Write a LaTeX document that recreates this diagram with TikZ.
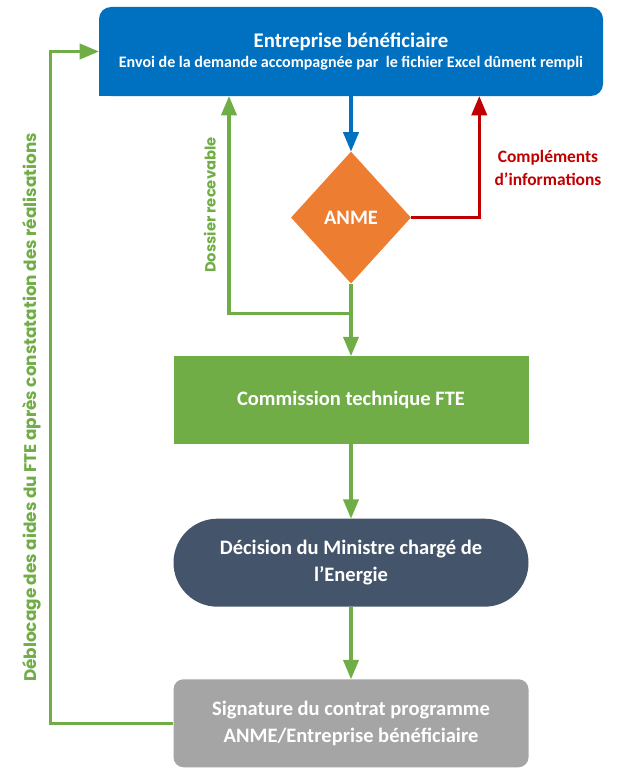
\documentclass[tikz,border=0pt]{standalone}
\usepackage{fontspec}
\setmainfont{Carlito}
\newfontfamily\geofont{Poppins}
\usepackage{tikz}
\usetikzlibrary{positioning}
\usetikzlibrary{arrows}
\usetikzlibrary{shapes.geometric}

\definecolor{bleu}{HTML}{0070C0}
\definecolor{orange}{HTML}{ED7D31}
\definecolor{vert}{HTML}{70AD47}
\definecolor{ardoise}{HTML}{44546A}
\definecolor{gris}{HTML}{A5A5A5}
\definecolor{rouge}{HTML}{C00000}

\begin{document}
\begin{tikzpicture}[
    etape/.style={minimum width=8.875cm, minimum height=2.2cm, inner sep=0pt,
      text=white, align=center, font=\bfseries\fontsize{14.6}{19}\selectfont},
    fleche/.style={line width=2.2pt, -triangle 45},
    etiquette/.style={font=\geofont\bfseries\fontsize{10.5}{13}\selectfont, text=vert}]
    \useasboundingbox (0,0) rectangle (15.55,-19.4);
    \node[fill=bleu, rounded corners=0.3cm, minimum width=12.6cm, minimum height=2.225cm,
      text=white, align=center] (entreprise) at (8.775,-1.2875)
      {{\bfseries\fontsize{14.8}{17}\selectfont Entreprise bénéficiaire}\\[2pt]
       {\bfseries\fontsize{11.4}{13}\selectfont Envoi de la demande accompagnée par\ \ le fichier Excel dûment rempli}};
    \fill[bleu] (entreprise.south west) rectangle ++(0.4,0.4);
    \node[diamond, fill=orange, minimum width=3cm, minimum height=3.3cm, inner sep=0pt,
      text=white, font=\bfseries\fontsize{14.6}{17}\selectfont, below=1.375cm of entreprise] (anme) {ANME};
    \node[etape, fill=vert, below=1.8cm of anme] (commission) {Commission technique FTE};
    \node[etape, fill=ardoise, rounded corners=1.1cm, below=1.85cm of commission] (decision)
      {Décision du Ministre chargé de\\ l’Energie};
    \node[etape, fill=gris, rounded corners=0.25cm, below=1.8cm of decision] (signature)
      {Signature du contrat programme\\ ANME/Entreprise bénéficiaire};
    % fleches principales
    \draw[fleche, bleu] (entreprise) -- (anme);
    \draw[fleche, vert] (anme) -- (commission);
    \draw[fleche, vert] (commission) -- (decision);
    \draw[fleche, vert] (decision) -- (signature);
    % retours
    \coordinate[below=0.75cm of anme.south] (embranchement);
    \coordinate[left=3.05cm of embranchement] (coin);
    \draw[fleche, vert] (embranchement) -- (coin) -- (coin |- entreprise.south)
      node[etiquette, midway, sloped, above=5pt] (recevable) {Dossier recevable};
    \draw[fleche, rouge] (anme.east) -- ++(1.7,0) coordinate (rcoin) -- (rcoin |- entreprise.south);
    \node[text=rouge, font=\bfseries\fontsize{12.4}{16}\selectfont, align=center] (complements)
      at (13.7,-4.2) {Compléments\\ d’informations};
    \draw[fleche, vert] (signature.west) -- ++(-3.075,0) coordinate (bcoin) -- (bcoin |- entreprise.west)
      node[etiquette, font=\geofont\bfseries\fontsize{12}{14}\selectfont, pos=0.47, sloped, above=2pt] (deblocage)
      {Déblocage des aides du FTE après constatation des réalisations} -- (entreprise.west);
\end{tikzpicture}
\end{document}
